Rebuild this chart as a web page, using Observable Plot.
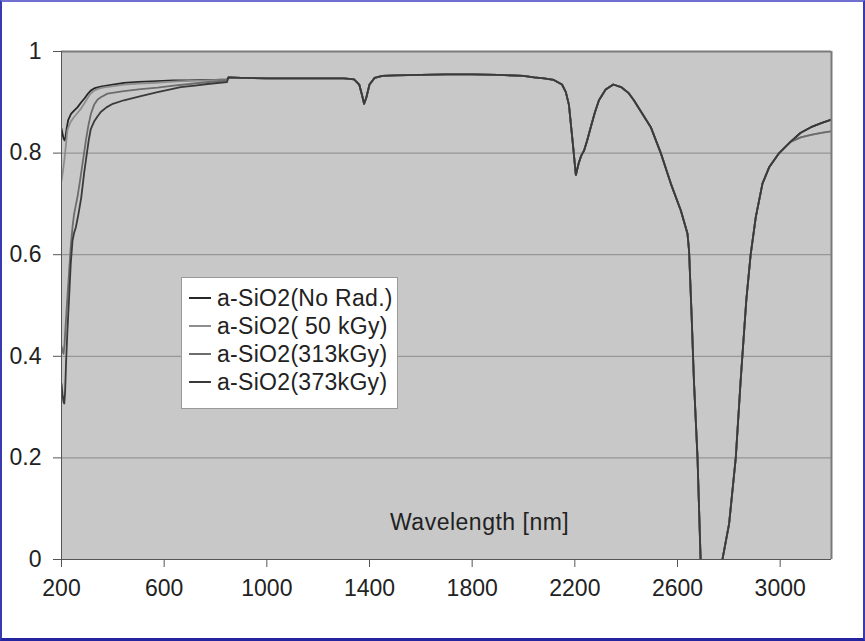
<!DOCTYPE html>
<html>
<head>
<meta charset="utf-8">
<script src="https://cdn.jsdelivr.net/npm/d3@7"></script>
<script src="https://cdn.jsdelivr.net/npm/@observablehq/plot@0.6"></script>
<style>
  html, body { margin: 0; padding: 0; background: #fff; }
  #wrap { position: relative; width: 865px; height: 641px; overflow: hidden; background: #fff; font-family: "Liberation Sans", Arial, sans-serif; }
  #chart { position: absolute; left: 0; top: 0; }
  #legend { position: absolute; left: 181px; top: 277px; width: 215px; height: 124px; background: #fff; border: 1px solid #9a9a9a; padding-top: 6px; box-sizing: content-box; }
  .row { display: flex; align-items: center; height: 28px; font-size: 23px; letter-spacing: 0.3px; color: #222; white-space: pre; }
  .sw { width: 22px; height: 2px; margin-left: 7px; margin-right: 6px; }
  #xlabel { position: absolute; left: 390px; top: 508px; font-size: 23px; letter-spacing: 0.5px; color: #222; line-height: 28px; white-space: pre; }
  #border { position: absolute; left: 0; top: 0; width: 865px; height: 641px; box-sizing: border-box; border-top: 2px solid #7070d0; border-left: 2px solid #3a3ab0; border-right: 2px solid #3a3ab0; border-bottom: 3px solid #2424a0; pointer-events: none; }
</style>
</head>
<body>
<div id="wrap">
  <div id="chart"></div>
  <div id="legend"></div>
  <div id="xlabel">Wavelength [nm]</div>
  <div id="border"></div>
</div>
<script>
// ---- data ----
const seriesNames = ["a-SiO2(No Rad.)", "a-SiO2( 50 kGy)", "a-SiO2(313kGy)", "a-SiO2(373kGy)"];
const seriesColors = ["#262626", "#8e8e8e", "#6c6c6c", "#3a3a3a"];

const xTicks = [200, 600, 1000, 1400, 1800, 2200, 2600, 3000];
const yTicks = [0, 0.2, 0.4, 0.6, 0.8, 1];

// UV edge, per series
const noRadWl = [200, 204, 208, 212, 216, 220, 226, 237, 250, 262, 277, 290, 300, 314, 330, 353, 400, 443, 500, 550, 637, 700, 750, 800, 845];
const noRadT  = [0.848, 0.838, 0.829, 0.825, 0.832, 0.848, 0.865, 0.877, 0.884, 0.890, 0.900, 0.908, 0.915, 0.923, 0.928, 0.931, 0.935, 0.938, 0.940, 0.941, 0.943, 0.943, 0.944, 0.944, 0.945];

const kGy50Wl = [200, 203, 207, 212, 218, 223, 230, 236, 249, 262, 275, 288, 300, 310, 327, 345, 360, 400, 443, 500, 550, 650, 750, 845];
const kGy50T  = [0.746, 0.755, 0.770, 0.790, 0.820, 0.845, 0.855, 0.862, 0.871, 0.879, 0.887, 0.897, 0.907, 0.915, 0.923, 0.927, 0.929, 0.932, 0.935, 0.937, 0.938, 0.941, 0.943, 0.944];

const kGy313Wl = [200, 204, 208, 212, 216, 223, 230, 236, 243, 249, 256, 262, 272, 282, 288, 295, 305, 315, 327, 340, 353, 379, 443, 509, 574, 637, 700, 750, 800, 845];
const kGy313T  = [0.420, 0.410, 0.405, 0.425, 0.460, 0.516, 0.570, 0.615, 0.655, 0.680, 0.698, 0.713, 0.745, 0.780, 0.800, 0.825, 0.855, 0.878, 0.895, 0.905, 0.910, 0.917, 0.922, 0.926, 0.929, 0.933, 0.936, 0.939, 0.941, 0.943];

const kGy373Wl = [200, 204, 208, 211, 214, 218, 223, 230, 236, 243, 249, 256, 266, 277, 288, 299, 306, 314, 327, 340, 353, 375, 400, 443, 509, 574, 620, 664, 720, 769, 845];
const kGy373T  = [0.346, 0.325, 0.310, 0.307, 0.330, 0.390, 0.450, 0.520, 0.582, 0.628, 0.643, 0.654, 0.680, 0.713, 0.760, 0.800, 0.825, 0.847, 0.862, 0.872, 0.881, 0.890, 0.897, 0.904, 0.912, 0.920, 0.925, 0.930, 0.933, 0.936, 0.940];

// shared NIR part (all four curves overlap)
const commonWl = [850, 900, 1000, 1100, 1200, 1300, 1340, 1360, 1372, 1379, 1388, 1400, 1420, 1450, 1500, 1600, 1700, 1800, 1900, 2000, 2041, 2080, 2118, 2150, 2165, 2177, 2191, 2204, 2215, 2225, 2236, 2248, 2262, 2278, 2294, 2320, 2350, 2380, 2410, 2430, 2460, 2496, 2535, 2574, 2613, 2639, 2645, 2655, 2664, 2678, 2690, 2700, 2765, 2775, 2801, 2827, 2846, 2868, 2885, 2905, 2931, 2957, 2996, 3040];
const commonT  = [0.949, 0.948, 0.947, 0.947, 0.947, 0.947, 0.945, 0.935, 0.912, 0.897, 0.910, 0.935, 0.948, 0.952, 0.953, 0.954, 0.955, 0.955, 0.954, 0.952, 0.949, 0.947, 0.944, 0.935, 0.920, 0.895, 0.825, 0.757, 0.780, 0.795, 0.805, 0.825, 0.851, 0.880, 0.904, 0.925, 0.935, 0.930, 0.918, 0.904, 0.880, 0.851, 0.800, 0.740, 0.687, 0.641, 0.608, 0.480, 0.352, 0.200, 0.000, -0.100, -0.100, 0.000, 0.070, 0.200, 0.352, 0.510, 0.600, 0.674, 0.740, 0.772, 0.800, 0.822];

// tails beyond 3040 nm
const upperTailWl = [3080, 3120, 3160, 3200];
const upperTailT  = [0.840, 0.851, 0.859, 0.866];
const lowerTailWl = [3080, 3120, 3160, 3200];
const lowerTailT  = [0.831, 0.836, 0.840, 0.843];

// ---- build table ----
const uv = [[noRadWl, noRadT], [kGy50Wl, kGy50T], [kGy313Wl, kGy313T], [kGy373Wl, kGy373T]];
const tails = [[upperTailWl, upperTailT], [lowerTailWl, lowerTailT], [lowerTailWl, lowerTailT], [upperTailWl, upperTailT]];
const data = [];
seriesNames.forEach((name, i) => {
  const parts = [uv[i], [commonWl, commonT], tails[i]];
  parts.forEach(([wl, t]) => wl.forEach((w, j) => data.push({series: name, wl: w, t: t[j]})));
});

const chart = Plot.plot({
  width: 865,
  height: 641,
  marginLeft: 61,
  marginRight: 34,
  marginTop: 51,
  marginBottom: 82,
  style: {background: "transparent", fontFamily: "Liberation Sans, Arial, sans-serif", fontSize: "23px", color: "#222"},
  x: {domain: [200, 3200]},
  y: {domain: [0, 1]},
  color: {domain: seriesNames, range: seriesColors},
  marks: [
    Plot.frame({fill: "#c8c8c8", stroke: null}),
    Plot.gridY(yTicks.filter(d => d > 0 && d < 1), {stroke: "#8a8a8a", strokeOpacity: 1, strokeWidth: 1}),
    Plot.line(data, {x: "wl", y: "t", z: "series", stroke: "series", strokeWidth: 1.8, clip: true, curve: "linear"}),
    Plot.ruleY([1], {stroke: "#7a7a7a", strokeWidth: 2}),
    Plot.ruleX([3200], {stroke: "#7a7a7a", strokeWidth: 2}),
    Plot.ruleX([200], {stroke: "#555"}),
    Plot.ruleY([0], {stroke: "#555"}),
    Plot.axisX(xTicks, {tickSize: 8, tickPadding: 12, stroke: "#555", fill: "#222", tickFormat: d => String(d), label: null}),
    Plot.axisY(yTicks, {tickSize: 8, tickPadding: 12, stroke: "#555", fill: "#222", tickFormat: d => String(d), label: null})
  ]
});
document.getElementById("chart").appendChild(chart);

// legend
const legend = document.getElementById("legend");
seriesNames.forEach((name, i) => {
  const row = document.createElement("div");
  row.className = "row";
  const sw = document.createElement("span");
  sw.className = "sw";
  sw.style.background = seriesColors[i];
  const tx = document.createElement("span");
  tx.textContent = name;
  row.appendChild(sw);
  row.appendChild(tx);
  legend.appendChild(row);
});
</script>
</body>
</html>
